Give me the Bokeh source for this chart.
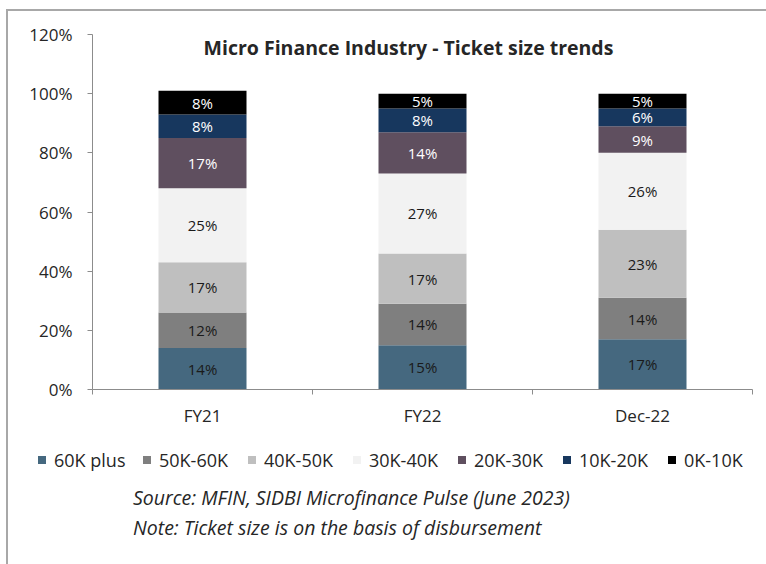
from bokeh.plotting import figure
from bokeh.layouts import column
from bokeh.models import (ColumnDataSource, FixedTicker, Div, PrintfTickFormatter, Range1d)
from bokeh.core.properties import value
from bokeh.embed import file_html
from bokeh.resources import INLINE

categories = ["FY21", "FY22", "Dec-22"]
series = ["60K plus", "50K-60K", "40K-50K", "30K-40K", "20K-30K", "10K-20K", "0K-10K"]
v_60k_plus = [14, 15, 17]
v_50k_60k = [12, 14, 14]
v_40k_50k = [17, 17, 23]
v_30k_40k = [25, 27, 26]
v_20k_30k = [17, 14, 9]
v_10k_20k = [8, 8, 6]
v_0k_10k = [8, 5, 5]
colors = ["#45687F", "#7F7F7F", "#BFBFBF", "#F2F2F2", "#5F4F5F", "#17375E", "#000000"]
label_colors = ["#1a1a1a", "#1a1a1a", "#1a1a1a", "#1a1a1a", "#ffffff", "#ffffff", "#ffffff"]
y_ticks = [0, 20, 40, 60, 80, 100, 120]
title_text = "Micro Finance Industry - Ticket size trends"
source_text = "Source: MFIN, SIDBI Microfinance Pulse (June 2023)"
note_text = "Note: Ticket size is on the basis of disbursement"

values = [v_60k_plus, v_50k_60k, v_40k_50k, v_30k_40k, v_20k_30k, v_10k_20k, v_0k_10k]
FONT = "Open Sans"
TXT = "#262626"
AX = "#8c8c8c"

p = figure(frame_width=660, frame_height=355, output_backend="svg", toolbar_location=None,
           x_range=Range1d(0, len(categories)), y_range=Range1d(0, 120),
           min_border_left=84, min_border_right=14, min_border_top=23, min_border_bottom=45)
p.outline_line_color = None
p.xgrid.visible = False
p.ygrid.visible = False
p.background_fill_color = "white"
p.border_fill_color = "white"

xs = [i + 0.5 for i in range(len(categories))]
data = {"x": xs, "cat": categories}
for s, v in zip(series, values):
    data[s] = v
src = ColumnDataSource(data)

renderers = p.vbar_stack(series, x="x", width=0.4, source=src, color=colors, line_color=None)

# segment labels
bottoms = [0] * len(categories)
for s, v, lc in zip(series, values, label_colors):
    mids = [b + val / 2 for b, val in zip(bottoms, v)]
    txt = [f"{val}%" for val in v]
    p.text(x=xs, y=mids, text=txt, text_color=lc, text_align="center", text_baseline="middle",
           text_font=value(FONT), text_font_size="15px")
    bottoms = [b + val for b, val in zip(bottoms, v)]

# chart title inside the frame
p.text(x=[len(categories) / 2], y=[115.5], text=[title_text], x_offset=-14,
       text_align="center", text_baseline="middle", text_font=value(FONT),
       text_font_size="19.5px", text_font_style="bold", text_color=TXT)

# axes
yax = p.yaxis[0]
yax.ticker = FixedTicker(ticks=y_ticks)
yax.formatter = PrintfTickFormatter(format="%d%%")
yax.axis_line_color = AX
yax.major_tick_line_color = AX
yax.major_tick_out = 5
yax.major_tick_in = 0
yax.minor_tick_line_color = None
yax.major_label_text_font = FONT
yax.major_label_text_font_size = "17px"
yax.major_label_text_color = TXT
yax.major_label_standoff = 15

xax = p.xaxis[0]
xax.ticker = FixedTicker(ticks=xs, minor_ticks=list(range(len(categories) + 1)))
xax.major_label_overrides = {x: c for x, c in zip(xs, categories)}
xax.axis_line_color = AX
xax.major_tick_line_color = None
xax.major_tick_out = 5
xax.major_tick_in = 0
xax.minor_tick_line_color = AX
xax.minor_tick_out = 5
xax.minor_tick_in = 0
xax.major_label_text_font = FONT
xax.major_label_text_font_size = "17px"
xax.major_label_text_color = TXT
xax.major_label_standoff = 9

# legend (HTML) and source notes
items_html = "".join(
    f'<div style="width:105px;display:flex;align-items:center;">'
    f'<span style="display:inline-block;width:8px;height:8px;background:{c};margin-right:8px;"></span>'
    f'<span>{s}</span></div>'
    for s, c in zip(series, colors))
legend_html = (f'<div style="display:flex;align-items:center;margin-left:30px;margin-top:17px;'
               f'height:18px;line-height:18px;font-family:\'{FONT}\';font-size:18px;color:{TXT};">'
               f'{items_html}</div>')
notes_html = (f'<div style="margin-left:125px;margin-top:14px;font-family:\'{FONT}\';'
              f'font-style:italic;font-size:19.5px;line-height:30px;color:{TXT};">'
              f'{source_text}<br>{note_text}</div>')
d = Div(text=legend_html + notes_html, width=758, height=130,
        styles={"margin": "0", "padding": "0"})

layout = column(p, d, spacing=0,
                styles={"margin-left": "6px", "margin-top": "9px",
                        "border-top": "2px solid #a8a8a8",
                        "border-left": "2px solid #a8a8a8"})

open("out.html", "w").write(file_html(layout, INLINE))
